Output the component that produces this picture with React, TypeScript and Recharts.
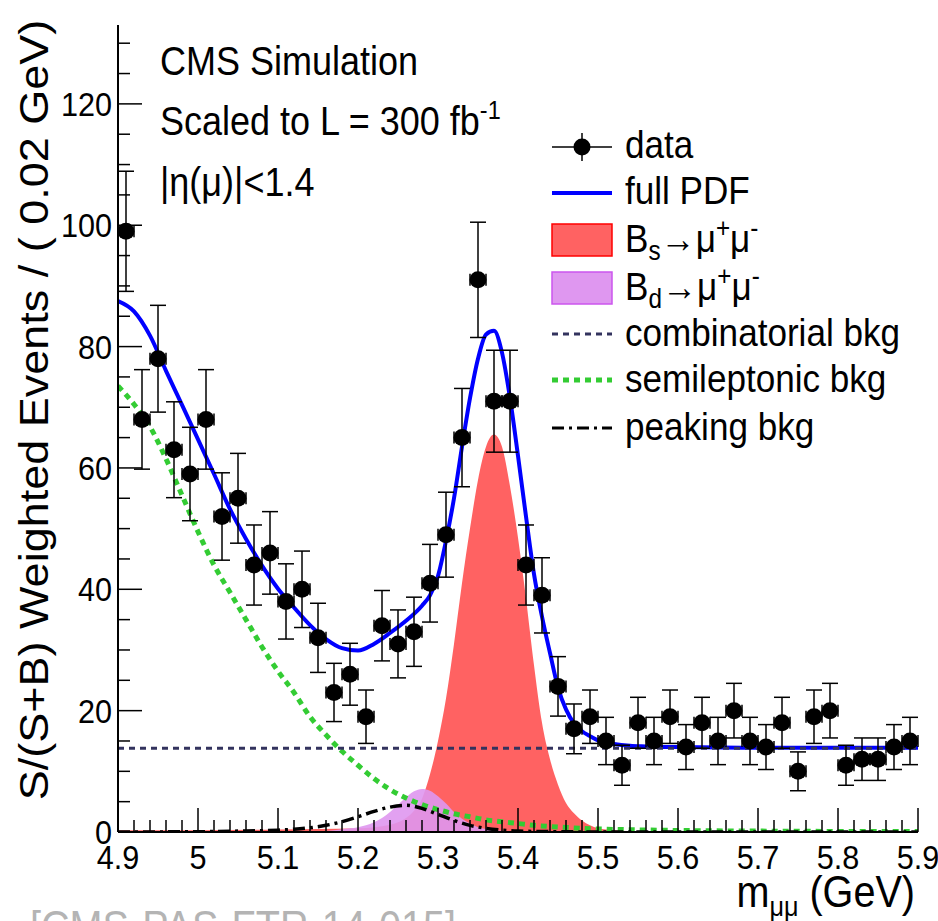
import React from 'react';
import { ComposedChart, Line, Area, Scatter, ErrorBar, XAxis, YAxis } from 'recharts';

// m(mumu) bin centres, 0.02 GeV wide
const massBins = [
  4.91, 4.93, 4.95, 4.97, 4.99, 5.01, 5.03, 5.05, 5.07, 5.09,
  5.11, 5.13, 5.15, 5.17, 5.19, 5.21, 5.23, 5.25, 5.27, 5.29,
  5.31, 5.33, 5.35, 5.37, 5.39, 5.41, 5.43, 5.45, 5.47, 5.49,
  5.51, 5.53, 5.55, 5.57, 5.59, 5.61, 5.63, 5.65, 5.67, 5.69,
  5.71, 5.73, 5.75, 5.77, 5.79, 5.81, 5.83, 5.85, 5.87, 5.89,
];
const counts = [
  99, 68, 78, 63, 59, 68, 52, 55, 44, 46,
  38, 40, 32, 23, 26, 19, 34, 31, 33, 41,
  49, 65, 91, 71, 71, 44, 39, 24, 17, 19,
  15, 11, 18, 15, 19, 14, 18, 15, 20, 15,
  14, 18, 10, 19, 20, 11, 12, 12, 14, 15,
];
const countErrs = [
  9.9, 8.2, 8.8, 7.9, 7.7, 8.2, 7.2, 7.4, 6.6, 6.8,
  6.2, 6.3, 5.7, 4.8, 5.1, 4.4, 5.8, 5.6, 5.7, 6.4,
  7.0, 8.1, 9.5, 8.4, 8.4, 6.6, 6.2, 4.9, 4.1, 4.4,
  3.9, 3.3, 4.2, 3.9, 4.4, 3.7, 4.2, 3.9, 4.5, 3.9,
  3.7, 4.2, 3.2, 4.4, 4.5, 3.3, 3.5, 3.5, 3.7, 3.9,
];
const binHalfWidth = 0.01;

// full PDF
const pdfMass = [
  4.9, 4.92, 4.94, 4.96, 4.98, 5.0, 5.02, 5.04, 5.06, 5.08, 5.1, 5.12, 5.14, 5.16, 5.18,
  5.2, 5.22, 5.24, 5.26, 5.28, 5.29, 5.3, 5.31, 5.32, 5.33, 5.34, 5.35, 5.36, 5.37, 5.38,
  5.39, 5.4, 5.41, 5.42, 5.43, 5.44, 5.45, 5.46, 5.47, 5.48, 5.49, 5.5, 5.52, 5.54, 5.56,
  5.6, 5.7, 5.8, 5.9,
];
const pdfVals = [
  87.5, 85.8, 81.8, 76.0, 70.4, 64.7, 59.0, 53.2, 48.3, 43.9, 40.1, 37.0, 34.1, 31.8, 30.3,
  29.9, 31.0, 32.8, 34.8, 37.3, 39.0, 42.2, 48.0, 55.0, 63.5, 71.5, 78.0, 82.0, 82.6, 79.0,
  71.5, 62.0, 52.0, 42.5, 35.5, 29.5, 23.8, 20.2, 17.9, 16.6, 15.8, 15.1, 14.5, 14.2, 14.1,
  14.0, 13.9, 13.9, 13.9,
];

// Bs -> mumu
const bsMass = [
  4.9, 5.0, 5.1, 5.2, 5.22, 5.24, 5.25, 5.26, 5.27, 5.28, 5.29, 5.3, 5.31, 5.32, 5.33, 5.34,
  5.35, 5.36, 5.37, 5.38, 5.39, 5.4, 5.41, 5.42, 5.43, 5.44, 5.45, 5.46, 5.47, 5.48, 5.49,
  5.5, 5.52, 5.55, 5.6,
];
const bsVals = [
  0.3, 0.3, 0.4, 0.6, 0.8, 1.2, 1.6, 2.3, 3.5, 5.5, 9.5, 15, 22, 31, 41, 50,
  58, 63.5, 65.5, 63.5, 57, 48.5, 38.5, 27.5, 18, 12, 7.8, 4.8, 3.1, 1.9, 1.1,
  0.6, 0.3, 0.1, 0,
];

// Bd -> mumu
const bdMass = [
  5.1, 5.15, 5.17, 5.19, 5.2, 5.21, 5.22, 5.23, 5.24, 5.25, 5.26, 5.27, 5.28, 5.29,
  5.3, 5.31, 5.32, 5.33, 5.34, 5.35, 5.36, 5.38, 5.4, 5.45,
];
const bdVals = [
  0, 0.1, 0.3, 0.6, 0.8, 1.1, 1.6, 2.3, 3.3, 4.5, 5.7, 6.7, 7.1, 6.8,
  5.9, 4.7, 3.3, 2.2, 1.4, 0.8, 0.5, 0.2, 0.05, 0,
];

// combinatorial (flat)
const combLevel = 13.8;

// semileptonic
const semiMass = [
  4.9, 4.92, 4.94, 4.96, 4.98, 5.0, 5.02, 5.04, 5.06, 5.08, 5.1, 5.12, 5.14, 5.16, 5.18,
  5.2, 5.22, 5.24, 5.26, 5.28, 5.3, 5.32, 5.34, 5.36, 5.38, 5.4, 5.42, 5.44, 5.46, 5.48,
  5.5, 5.55, 5.6, 5.7, 5.8, 5.9,
];
const semiVals = [
  73.5, 70.5, 66.8, 61.5, 55.5, 49.5, 44.0, 39.5, 35.0, 30.5, 26.5, 23.0, 19.0, 16.0, 13.3,
  11.0, 8.8, 7.0, 5.6, 4.5, 3.7, 3.0, 2.5, 2.0, 1.7, 1.4, 1.1, 0.9, 0.75, 0.6,
  0.5, 0.35, 0.25, 0.15, 0.1, 0.1,
];

// peaking
const peakMass = [
  4.9, 5.0, 5.05, 5.1, 5.12, 5.14, 5.16, 5.18, 5.2, 5.22, 5.24, 5.26, 5.28, 5.3,
  5.32, 5.34, 5.36, 5.38, 5.4, 5.45, 5.5, 5.9,
];
const peakVals = [
  0, 0.05, 0.15, 0.3, 0.45, 0.7, 1.1, 1.7, 2.5, 3.4, 4.1, 4.4, 3.9, 2.9,
  1.9, 1.1, 0.6, 0.3, 0.15, 0.05, 0, 0,
];

const xMin = 4.9;
const xMax = 5.9;
const yMax = 133;

const pts = massBins.map((x, i) => ({ x, y: counts[i], err: countErrs[i], xerr: binHalfWidth }));
const toXY = (xs: number[], ys: number[]) => xs.map((x, i) => ({ x, y: ys[i] }));
const pdfData = toXY(pdfMass, pdfVals);
const bsData = toXY(bsMass, bsVals);
const bdData = toXY(bdMass, bdVals);
const semiData = toXY(semiMass, semiVals);
const peakData = toXY(peakMass, peakVals);
const combData = [xMin, xMax].map((x) => ({ x, y: combLevel }));

const xTicks = Array.from({ length: 51 }, (_, i) => +(xMin + i * 0.02).toFixed(2));
const yTicks = Array.from({ length: 27 }, (_, i) => i * 5);

const FONT = '"Liberation Sans", Arial, Helvetica, sans-serif';
const SX = 0.9;
const BLUE = '#0000ff';
const RED = '#ff6262';
const MAG = '#df97f0';
const NAVY = '#33335e';
const GREEN = '#33cc33';

const isMajorX = (v: number) => Math.abs(v * 10 - Math.round(v * 10)) < 1e-6;

const XTick = (props: any) => {
  const { x, y, payload } = props;
  const v = payload.value;
  const major = isMajorX(v);
  return (
    <g>
      <line x1={x} x2={x} y1={y} y2={y - (major ? 24 : 12)} stroke="#000" strokeWidth={1.5} />
      {major && (
        <g transform={`translate(${x},${y + 37}) scale(${SX},1)`}>
          <text textAnchor="middle" fontSize={34} fontFamily={FONT} fill="#000">
            {String(Math.round(v * 10) / 10)}
          </text>
        </g>
      )}
    </g>
  );
};

const YTick = (props: any) => {
  const { x, y, payload } = props;
  const v = payload.value;
  const major = v % 20 === 0;
  return (
    <g>
      <line x1={x} x2={x + (major ? 24 : 12)} y1={y} y2={y} stroke="#000" strokeWidth={1.5} />
      {major && (
        <g transform={`translate(${x - 6},${y + 12}) scale(${SX},1)`}>
          <text textAnchor="end" fontSize={34} fontFamily={FONT} fill="#000">
            {v}
          </text>
        </g>
      )}
    </g>
  );
};

const T = ({ x, y, size, anchor = 'start', fill = '#000', children }: any) => (
  <g transform={`translate(${x},${y}) scale(${SX},1)`}>
    <text x={0} y={0} fontSize={size} textAnchor={anchor} fill={fill} fontFamily={FONT}>
      {children}
    </text>
  </g>
);

const Marker = (p: any) => <circle cx={p.cx} cy={p.cy} r={8.5} fill="#000" />;

const Overlay = () => {
  const lx1 = 552;
  const lx2 = 612;
  const tx = 625;
  const fs = 39;
  const sub = 27;
  return (
    <svg width={938} height={921} style={{ position: 'absolute', left: 0, top: 0, pointerEvents: 'none' }}>
      <T x={160} y={75} size={40}>CMS Simulation</T>
      <T x={160} y={135} size={40}>
        Scaled to L = 300 fb<tspan dy={-16} fontSize={26}>-1</tspan>
      </T>
      <T x={160} y={196} size={40}>|η(μ)|&lt;1.4</T>

      {/* legend */}
      <line x1={lx1} x2={lx2} y1={147} y2={147} stroke="#000" strokeWidth={1.5} />
      <line x1={582} x2={582} y1={133} y2={161} stroke="#000" strokeWidth={1.5} />
      <circle cx={582} cy={147} r={8.5} fill="#000" />
      <T x={tx} y={158} size={fs}>data</T>

      <line x1={lx1} x2={lx2} y1={193} y2={193} stroke={BLUE} strokeWidth={4} />
      <T x={tx} y={204} size={fs}>full PDF</T>

      <rect x={lx1} y={224} width={lx2 - lx1} height={32} fill={RED} stroke="#ff0000" strokeWidth={1.5} />
      <T x={tx} y={252} size={fs}>
        B<tspan dy={8} fontSize={sub}>s</tspan>
        <tspan dy={-8}>→μ</tspan>
        <tspan dy={-15} fontSize={sub}>+</tspan>
        <tspan dy={15}>μ</tspan>
        <tspan dy={-15} fontSize={sub}>-</tspan>
      </T>

      <rect x={lx1} y={272} width={lx2 - lx1} height={32} fill={MAG} stroke="#cc55ee" strokeWidth={1.5} />
      <T x={tx} y={300} size={fs}>
        B<tspan dy={8} fontSize={sub}>d</tspan>
        <tspan dy={-8}>→μ</tspan>
        <tspan dy={-15} fontSize={sub}>+</tspan>
        <tspan dy={15}>μ</tspan>
        <tspan dy={-15} fontSize={sub}>-</tspan>
      </T>

      <line x1={lx1} x2={lx2} y1={334} y2={334} stroke={NAVY} strokeWidth={3} strokeDasharray="6 5" />
      <T x={tx} y={346} size={fs}>combinatorial bkg</T>

      <line x1={lx1} x2={lx2} y1={380} y2={380} stroke={GREEN} strokeWidth={5} strokeDasharray="6 5" />
      <T x={tx} y={392} size={fs}>semileptonic bkg</T>

      <line x1={lx1} x2={lx2} y1={428} y2={428} stroke="#000" strokeWidth={3} strokeDasharray="12 5 3 5" />
      <T x={tx} y={440} size={fs}>peaking bkg</T>

      {/* axis titles */}
      <g transform={`translate(48,410) scale(${SX},1) rotate(-90)`}>
        <text x={0} y={0} fontSize={45} textAnchor="middle" fontFamily={FONT} fill="#000">
          S/(S+B) Weighted Events / ( 0.02 GeV)
        </text>
      </g>
      <T x={915} y={907} size={44} anchor="end">
        m<tspan dy={9} fontSize={28}>μμ</tspan>
        <tspan dy={-9}> (GeV)</tspan>
      </T>
      <T x={30} y={942} size={44} fill="#b4b4b4">[CMS-PAS-FTR-14-015]</T>
    </svg>
  );
};

export default function App() {
  return (
    <div
      style={{
        position: 'absolute',
        left: 0,
        top: 0,
        width: 938,
        height: 921,
        overflow: 'hidden',
        background: '#fff',
        fontFamily: FONT,
      }}
    >
      <ComposedChart width={938} height={921} margin={{ top: 25, right: 20, bottom: 39, left: 58 }}>
        <XAxis
          type="number"
          dataKey="x"
          domain={[xMin, xMax]}
          ticks={xTicks}
          interval={0}
          allowDataOverflow
          height={50}
          tickSize={0}
          tickMargin={0}
          tickLine={false}
          tick={<XTick />}
          axisLine={{ stroke: '#000', strokeWidth: 2 }}
        />
        <XAxis
          xAxisId="top"
          orientation="top"
          type="number"
          domain={[0, 1]}
          height={0}
          tick={false}
          tickLine={false}
          axisLine={{ stroke: '#000', strokeWidth: 2 }}
        />
        <YAxis
          type="number"
          domain={[0, yMax]}
          ticks={yTicks}
          interval={0}
          allowDataOverflow
          width={60}
          tickSize={0}
          tickMargin={0}
          tickLine={false}
          tick={<YTick />}
          axisLine={{ stroke: '#000', strokeWidth: 2 }}
        />
        <YAxis
          yAxisId="right"
          orientation="right"
          type="number"
          domain={[0, 1]}
          width={0}
          tick={false}
          tickLine={false}
          axisLine={{ stroke: '#000', strokeWidth: 2 }}
        />
        <Area data={bsData} dataKey="y" type="monotone" fill={RED} fillOpacity={1} stroke="none" isAnimationActive={false} />
        <Area data={bdData} dataKey="y" type="monotone" fill={MAG} fillOpacity={0.9} stroke="none" isAnimationActive={false} />
        <Line data={semiData} dataKey="y" type="monotone" stroke={GREEN} strokeWidth={5} strokeDasharray="6 5" dot={false} isAnimationActive={false} />
        <Line data={peakData} dataKey="y" type="monotone" stroke="#000" strokeWidth={3.5} strokeDasharray="12 5 3 5" dot={false} isAnimationActive={false} />
        <Line data={pdfData} dataKey="y" type="monotone" stroke={BLUE} strokeWidth={4} dot={false} isAnimationActive={false} />
        <Line data={combData} dataKey="y" type="linear" stroke={NAVY} strokeWidth={3} strokeDasharray="6 5" dot={false} isAnimationActive={false} />
        <Scatter data={pts} dataKey="y" shape={<Marker />} isAnimationActive={false}>
          <ErrorBar dataKey="err" direction="y" width={8} stroke="#000" strokeWidth={1.5} />
          <ErrorBar dataKey="xerr" direction="x" width={6} stroke="#000" strokeWidth={1.5} />
        </Scatter>
      </ComposedChart>
      <Overlay />
    </div>
  );
}
